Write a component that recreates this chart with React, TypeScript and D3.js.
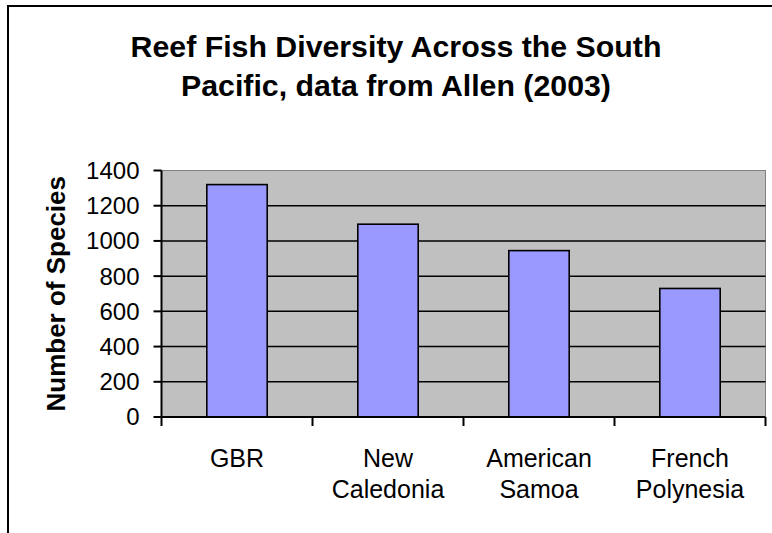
import React from "react";
import * as d3 from "d3";

const categories: string[][] = [["GBR"], ["New", "Caledonia"], ["American", "Samoa"], ["French", "Polynesia"]];
const categoryKeys = ["GBR", "New Caledonia", "American Samoa", "French Polynesia"];
const species = [1320, 1095, 945, 730];
const yTicks = [0, 200, 400, 600, 800, 1000, 1200, 1400];
const titleLines = ["Reef Fish Diversity Across the South", "Pacific, data from Allen (2003)"];
const yLabel = "Number of Species";

export default function App() {
  const W = 772, H = 533;
  const left = 161.5, right = 765.5, top = 170.5, bottom = 417;
  const x = d3.scaleBand<string>().domain(categoryKeys).range([left, right]).paddingInner(0.6).paddingOuter(0.3);
  const xb = d3.scaleBand<string>().domain(categoryKeys).range([left, right]);
  const y = d3.scaleLinear().domain([0, 1400]).range([bottom, top]);
  const font = "Arial, 'Liberation Sans', sans-serif";
  return (
    <svg width={W} height={H} style={{ position: "absolute", left: 0, top: 0, background: "#fff" }}>
      <rect x={8} y={6} width={900} height={700} fill="#fff" stroke="#000" strokeWidth={2} />
      {titleLines.map((t, i) => (
        <text key={i} x={396} y={57 + i * 39} textAnchor="middle" fontFamily={font} fontWeight="bold" fontSize={30.3}>{t}</text>
      ))}
      <rect x={left} y={top} width={right - left} height={bottom - top} fill="#C0C0C0" stroke="#808080" strokeWidth={1} />
      {yTicks.filter(t => t > 0 && t < 1400).map(t => (
        <line key={t} x1={left} x2={right} y1={y(t)} y2={y(t)} stroke="#000" strokeWidth={1.5} />
      ))}
      {species.map((v, i) => (
        <rect key={i} x={x(categoryKeys[i])} y={y(v)} width={x.bandwidth()} height={bottom - y(v)} fill="#9999FF" stroke="#000" strokeWidth={1.6} />
      ))}
      <line x1={left} x2={left} y1={top} y2={bottom} stroke="#000" strokeWidth={2} />
      <line x1={left} x2={right} y1={bottom} y2={bottom} stroke="#000" strokeWidth={2} />
      {yTicks.map(t => (
        <g key={t}>
          <line x1={left - 8} x2={left} y1={y(t)} y2={y(t)} stroke="#000" strokeWidth={2} />
          <text x={left - 22} y={y(t)} dy="0.35em" textAnchor="end" fontFamily={font} fontSize={24}>{t}</text>
        </g>
      ))}
      {categoryKeys.map((k) => (
        <line key={k} x1={(xb(k) as number) + xb.bandwidth()} x2={(xb(k) as number) + xb.bandwidth()} y1={bottom} y2={bottom + 9} stroke="#000" strokeWidth={2} />
      ))}
      <line x1={left} x2={left} y1={bottom} y2={bottom + 9} stroke="#000" strokeWidth={2} />
      {categories.map((lines, i) => (
        <text key={i} textAnchor="middle" fontFamily={font} fontSize={25}>
          {lines.map((l, j) => (
            <tspan key={j} x={(xb(categoryKeys[i]) as number) + xb.bandwidth() / 2} y={467 + j * 31}>{l}</tspan>
          ))}
        </text>
      ))}
      <text transform={`translate(65, ${(top + bottom) / 2}) rotate(-90)`} textAnchor="middle" fontFamily={font} fontWeight="bold" fontSize={26}>{yLabel}</text>
    </svg>
  );
}
